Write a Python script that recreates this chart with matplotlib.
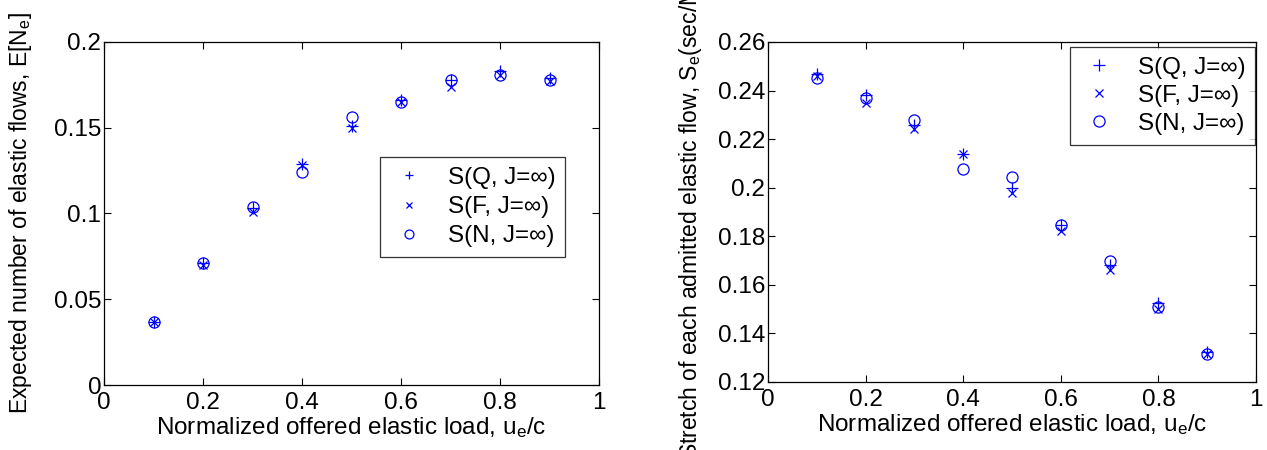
import matplotlib
matplotlib.use("Agg")
import matplotlib.pyplot as plt

plt.rcParams['font.family'] = ['Liberation Sans', 'DejaVu Sans']
plt.rcParams['mathtext.default'] = 'regular'

x = [0.1, 0.2, 0.3, 0.4, 0.5, 0.6, 0.7, 0.8, 0.9]

# Left: expected number of elastic flows
en_q = [0.037, 0.071, 0.103, 0.129, 0.151, 0.166, 0.178, 0.183, 0.179]
en_f = [0.037, 0.070, 0.101, 0.128, 0.150, 0.165, 0.174, 0.181, 0.177]
en_n = [0.037, 0.071, 0.104, 0.124, 0.156, 0.165, 0.178, 0.181, 0.178]

# Right: stretch of each admitted elastic flow
st_q = [0.247, 0.238, 0.226, 0.214, 0.200, 0.1845, 0.168, 0.1525, 0.1325]
st_f = [0.246, 0.235, 0.224, 0.214, 0.198, 0.182, 0.166, 0.150, 0.1315]
st_n = [0.245, 0.237, 0.228, 0.2075, 0.2045, 0.1845, 0.170, 0.151, 0.1315]

labels = ['S(Q, J=∞)', 'S(F, J=∞)', 'S(N, J=∞)']
xlabel = 'Normalized offered elastic load, u$_e$/c'

FS = 17.5
FSY = 16.5
blue = '#0000ff'

fig = plt.figure(figsize=(12.67, 4.5), dpi=100)
axL = fig.add_axes([104/1267, 1-385/450, (599-104)/1267, (385-42)/450])
axR = fig.add_axes([768/1267, 1-382/450, (1256-768)/1267, (382-42)/450])

def draw(ax, q, f, n):
    ax.plot(x, q, linestyle='none', marker='+', color=blue, markersize=8, markeredgewidth=0.9, label=labels[0])
    ax.plot(x, f, linestyle='none', marker='x', color=blue, markersize=6, markeredgewidth=0.9, label=labels[1])
    ax.plot(x, n, linestyle='none', marker='o', color=blue, markerfacecolor='none', markersize=8, markeredgewidth=0.9, label=labels[2])
    ax.tick_params(direction='in', top=True, right=True, labelsize=FS, length=5, width=0.8)
    ax.tick_params(axis='y', pad=2)
    ax.tick_params(axis='x', pad=5)
    for s in ax.spines.values():
        s.set_linewidth(0.9)

draw(axL, en_q, en_f, en_n)
axL.set_xlim(0, 1)
axL.set_ylim(0, 0.2)
axL.set_xticks([0, 0.2, 0.4, 0.6, 0.8, 1])
axL.set_xticklabels(['0', '0.2', '0.4', '0.6', '0.8', '1'])
axL.set_yticks([0, 0.05, 0.1, 0.15, 0.2])
axL.set_yticklabels(['0', '0.05', '0.1', '0.15', '0.2'])
axL.set_xlabel(xlabel, fontsize=FS, labelpad=1)
axL.set_ylabel('Expected number of elastic flows, E[N$_e$]', fontsize=FSY, labelpad=14)
legL = axL.legend(loc='upper left', bbox_to_anchor=(380/1267, 1-157/450), bbox_transform=fig.transFigure,
                  borderaxespad=0, fontsize=FS, frameon=True, fancybox=False, edgecolor='black', markerscale=0.8,
                  handlelength=1.6, handletextpad=0.8, borderpad=0.4, labelspacing=0.3)
legL.get_frame().set_linewidth(0.9)

draw(axR, st_q, st_f, st_n)
axR.set_xlim(0, 1)
axR.set_ylim(0.12, 0.26)
axR.set_xticks([0, 0.2, 0.4, 0.6, 0.8, 1])
axR.set_xticklabels(['0', '0.2', '0.4', '0.6', '0.8', '1'])
axR.set_yticks([0.12, 0.14, 0.16, 0.18, 0.2, 0.22, 0.24, 0.26])
axR.set_yticklabels(['0.12', '0.14', '0.16', '0.18', '0.2', '0.22', '0.24', '0.26'])
axR.set_xlabel(xlabel, fontsize=FS, labelpad=1)
axR.set_ylabel('Stretch of each admitted elastic flow, S$_e$(sec/Mb)', fontsize=FSY, labelpad=10)
legR = axR.legend(loc='upper left', bbox_to_anchor=(1070/1267, 1-47/450), bbox_transform=fig.transFigure,
                  borderaxespad=0, fontsize=FS, frameon=True, fancybox=False, edgecolor='black', markerscale=1.0,
                  handlelength=1.6, handletextpad=0.8, borderpad=0.4, labelspacing=0.25)
legR.get_frame().set_linewidth(0.9)

fig.savefig('out.png', dpi=100)
